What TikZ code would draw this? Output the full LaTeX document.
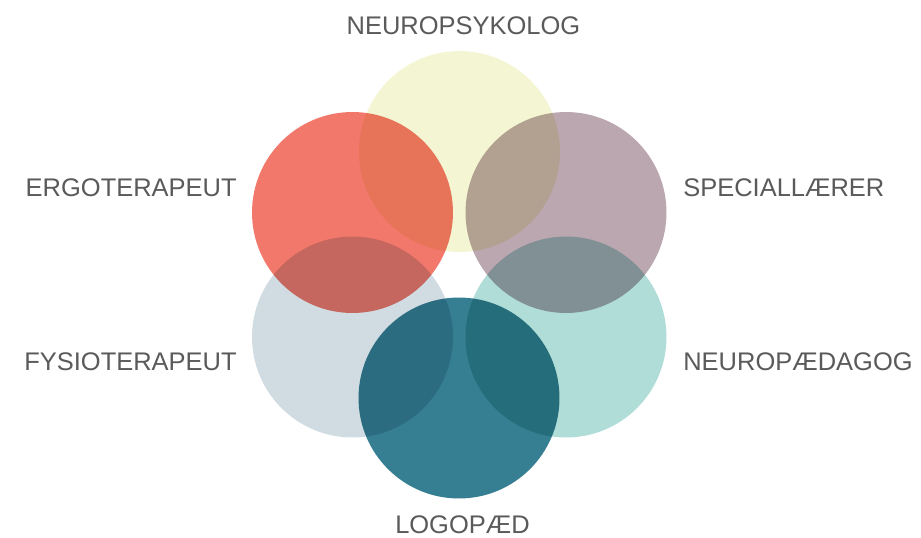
\documentclass[tikz,border=0pt]{standalone}
\usepackage{fontspec}
\setmainfont{Liberation Sans}
\definecolor{psykcol}{HTML}{F4F6D3}
\definecolor{ergocol}{HTML}{F2786B}
\definecolor{specol}{HTML}{BBA7AF}
\definecolor{fysiocol}{HTML}{D0DCE2}
\definecolor{paedcol}{HTML}{B0DDD8}
\definecolor{logocol}{HTML}{367E91}
\definecolor{labelgray}{HTML}{5A5A5A}
\begin{document}
\begin{tikzpicture}[x=0.02cm,y=-0.02cm,
        disc/.style={circle,minimum size=4.02cm,inner sep=0pt},
        fag/.style={text=labelgray,inner sep=0pt,font=\fontsize{14.5}{17}\selectfont}]
        \useasboundingbox (0,0) rectangle (921,538);

        \begin{scope}[blend group=multiply]
        \node[disc,fill=psykcol] (psyk) at (459.5,151.5) {};
        \node[disc,fill=ergocol] (ergo) at (352.5,212.5) {};
        \node[disc,fill=specol] (spec) at (566,212.5) {};
        \node[disc,fill=fysiocol] (fysio) at (352.5,337) {};
        \node[disc,fill=paedcol] (paed) at (566,337) {};
        \node[disc,fill=logocol] (logo) at (459,398) {};
        \end{scope}

        \node[fag] (psyklbl) at (463.5,26) {NEUROPSYKOLOG};
        \node[fag,anchor=east] (ergolbl) at (237,188) {ERGOTERAPEUT};
        \node[fag,anchor=west] (speclbl) at (683,188) {SPECIALLÆRER};
        \node[fag,anchor=east] (fysiolbl) at (237,362) {FYSIOTERAPEUT};
        \node[fag,anchor=west] (paedlbl) at (683,362) {NEUROPÆDAGOG};
        \node[fag] (logolbl) at (462.5,525) {LOGOPÆD};
\end{tikzpicture}
\end{document}
